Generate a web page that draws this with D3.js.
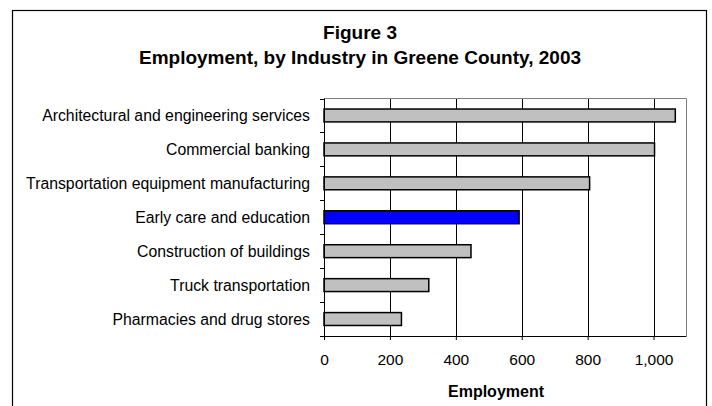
<!DOCTYPE html>
<html><head><meta charset="utf-8">
<script src="https://cdn.jsdelivr.net/npm/d3@7"></script>
<style>body{margin:0;background:#fff;} svg{display:block;font-family:"Liberation Sans",Arial,sans-serif;}</style>
</head><body>
<svg id="chart" width="712" height="406"></svg>
<script>
const categories = ["Architectural and engineering services","Commercial banking","Transportation equipment manufacturing","Early care and education","Construction of buildings","Truck transportation","Pharmacies and drug stores"];
const values = [1066, 1003, 806, 592, 446, 318, 235];
const highlight = ["Early care and education"];
const xTicks = [0, 200, 400, 600, 800, 1000];
const titleLines = ["Figure 3", "Employment, by Industry in Greene County, 2003"];
const xTitle = "Employment";

const svg = d3.select("#chart");
const L = 324, R = 686.5, T = 98.5, B = 336;

svg.append("rect").attr("x",12.5).attr("y",10.5).attr("width",694).attr("height",420)
  .attr("fill","#fff").attr("stroke","#000").attr("stroke-width",1.2);

const x = d3.scaleLinear().domain([0,1100]).range([L,R]);
const y = d3.scaleBand().domain(categories).range([T,B]).paddingInner(0.62).paddingOuter(0.31);

// grid
svg.append("g").selectAll("line").data(xTicks.filter(d=>d>0)).join("line")
  .attr("x1",d=>Math.round(x(d))+0.5).attr("x2",d=>Math.round(x(d))+0.5)
  .attr("y1",T).attr("y2",B).attr("stroke","#000").attr("stroke-width",1);
// plot border top/right
svg.append("path").attr("d",`M${L},${T}H${R}V${B}`).attr("fill","none").attr("stroke","#808080").attr("stroke-width",1);

// bars
svg.append("g").selectAll("rect").data(categories).join("rect")
  .attr("x",x(0)).attr("y",d=>y(d))
  .attr("width",(d,i)=>x(values[i])-x(0)).attr("height",y.bandwidth())
  .attr("fill",d=>highlight.includes(d)?"#0000ff":"#c0c0c0")
  .attr("stroke","#000").attr("stroke-width",1.5);

// x axis
const xAxis = d3.axisBottom(x).tickValues(xTicks).tickSize(4).tickFormat(d3.format(","));
const gx = svg.append("g").attr("transform",`translate(0,${B})`).call(xAxis);
gx.select(".domain").attr("d",`M${L},0.5H${R}`).attr("stroke","#000");
gx.selectAll(".tick line").attr("stroke","#000");
gx.selectAll(".tick text").attr("font-size",15.5).attr("font-family","Liberation Sans, Arial")
  .attr("fill","#000").attr("y",29).attr("dy",0);

// y axis
const step = y.step();
const bounds = d3.range(categories.length+1).map(i=>T + i*step);
svg.append("line").attr("x1",L+0.5).attr("x2",L+0.5).attr("y1",T).attr("y2",B+4).attr("stroke","#000");
svg.append("g").selectAll("line").data(bounds).join("line")
  .attr("x1",L-4).attr("x2",L).attr("y1",d=>Math.round(d)+0.5).attr("y2",d=>Math.round(d)+0.5).attr("stroke","#000");
svg.append("g").selectAll("text").data(categories).join("text")
  .attr("x",310).attr("y",d=>y(d)+y.bandwidth()/2).attr("dy","0.36em")
  .attr("text-anchor","end").attr("font-size",15.8).attr("fill","#000").text(d=>d);

// titles
svg.append("g").selectAll("text").data(titleLines).join("text")
  .attr("x",360).attr("y",(d,i)=>38.5+i*25).attr("text-anchor","middle")
  .attr("font-size",19).attr("font-weight","bold").text(d=>d);
svg.append("text").attr("x",496).attr("y",396.5).attr("text-anchor","middle")
  .attr("font-size",16).attr("font-weight","bold").text(xTitle);
</script>
</body></html>
